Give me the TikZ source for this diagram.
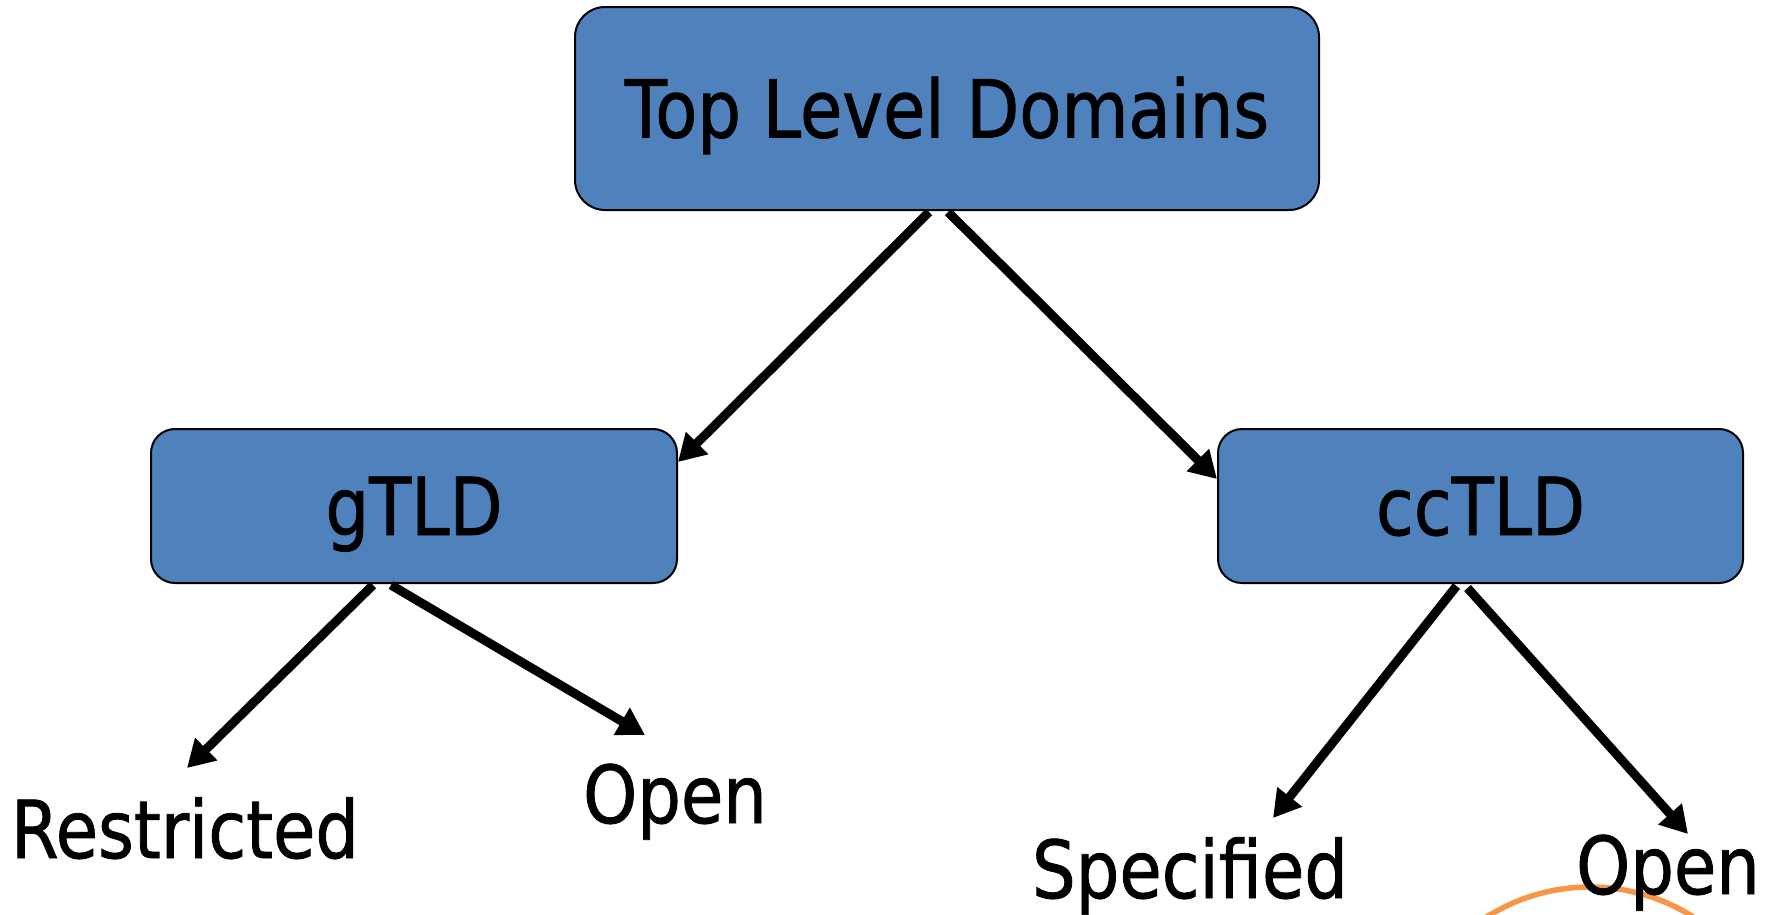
\documentclass[tikz,border=0pt]{standalone}
\usepackage{fontspec}
\setmainfont[FakeStretch=0.86,FakeBold=1]{DejaVu Sans}
\usetikzlibrary{arrows.meta}
\definecolor{boxblue}{HTML}{4F81BD}
\definecolor{arcorange}{HTML}{F79646}
\begin{document}
\begin{tikzpicture}[x=1pt,y=-1pt,
  bigfont/.style={font=\fontsize{80pt}{96pt}\selectfont},
  domainbox/.style={draw=black, line width=2pt, fill=boxblue, bigfont,
    text height=58pt, text depth=0pt, inner sep=0pt},
  leaf/.style={bigfont, anchor=base, inner sep=0pt},
  arr/.style={line width=9pt, -{Triangle[length=27pt,width=30pt]}}]
\useasboundingbox (0,0) rectangle (1771,914);
\begin{scope}
  \clip (0,0) rectangle (1771,914);
  \draw[arcorange, line width=5.5pt] (1590,1080) circle[radius=193];
\end{scope}
\node[domainbox, rounded corners=30pt, minimum width=744pt, minimum height=203pt] (top) at (947,108.5) {Top Level Domains};
\node[domainbox, rounded corners=24pt, minimum width=526pt, minimum height=154pt] (gtld) at (414,506) {gTLD};
\node[domainbox, rounded corners=24pt, minimum width=525pt, minimum height=154pt] (cctld) at (1480.5,506) {ccTLD};
\node[leaf] (restricted) at (185,858) {Restricted};
\node[leaf] (open1) at (675,823) {Open};
\node[leaf] (specified) at (1190,898) {Specified};
\node[leaf] (open2) at (1668,894) {Open};
\coordinate (t1) at (678,462);
\coordinate (t2) at (1217,479);
\coordinate (t3) at (187,768);
\coordinate (t4) at (645,735);
\coordinate (t5) at (1273,818);
\coordinate (t6) at (1688,834);
\draw[arr] ([xshift=-18pt,yshift=-1pt]top.south) -- (t1);
\draw[arr] ([xshift=1pt,yshift=-1pt]top.south) -- (t2);
\draw[arr] ([xshift=-41pt,yshift=-1pt]gtld.south) -- (t3);
\draw[arr] ([xshift=-23pt,yshift=-1pt]gtld.south) -- (t4);
\draw[arr] ([xshift=-24pt,yshift=-2pt]cctld.south) -- (t5);
\draw[arr] ([xshift=-13pt,yshift=-4pt]cctld.south) -- (t6);
\end{tikzpicture}
\end{document}
